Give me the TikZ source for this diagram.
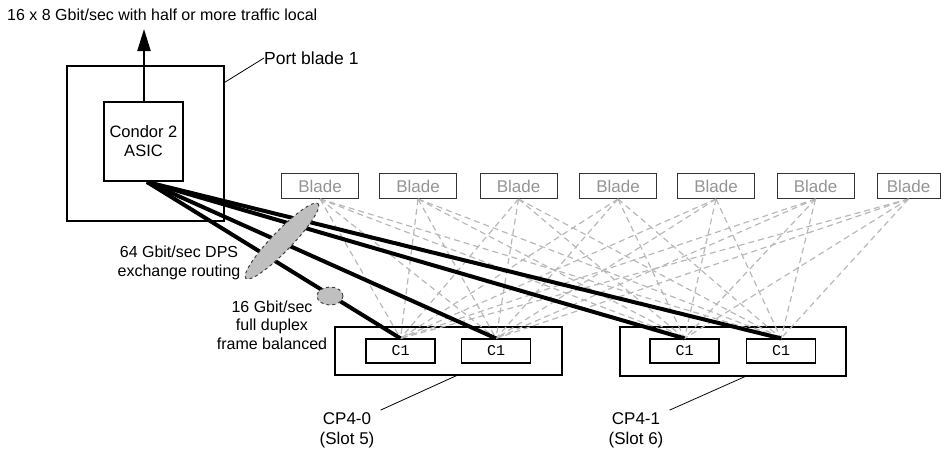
\documentclass[tikz,border=0pt]{standalone}
\usepackage{fontspec}
\setmainfont{Liberation Sans}
\setmonofont{Liberation Mono}
\usetikzlibrary{arrows.meta}

\tikzset{
    frame/.style={draw=black, line width=1.2pt, inner sep=0pt},
    blade/.style={draw=black!80, line width=1pt, minimum width=77pt, minimum height=25pt, inner sep=0pt, text=black!42, font=\fontsize{17}{19}\selectfont},
    chip/.style={draw=black, line width=1.2pt, minimum width=69pt, minimum height=24pt, inner sep=0pt, font=\ttfamily\fontsize{15}{17}\selectfont},
    mesh/.style={black!28, line width=1.2pt, dash pattern=on 6pt off 4pt},
    link/.style={line width=4pt},
    bubble/.style={draw=black!75, fill=black!25, line width=1pt, dashed},
    lbl/.style={align=center, inner sep=2pt, font=\fontsize{16}{18.5}\selectfont},
    leader/.style={line width=0.8pt}
}

\begin{document}
\begin{tikzpicture}[x=1pt, y=-1pt]
    \useasboundingbox (0,0) rectangle (944,451);

    % port blade
    \node[frame, minimum width=157pt, minimum height=155pt] (port) at (145.5,143.5) {};
    \node[frame, line width=1.4pt, minimum width=79pt, minimum height=79pt, lbl, font=\fontsize{16.5}{19}\selectfont] (asic) at (143.5,141.5) {Condor 2\\ASIC};
    \node[lbl, anchor=west] (title) at (5,15) {16 x 8 Gbit/sec with half or more traffic local};
    \coordinate (up) at (144,29);
    \draw[line width=2.2pt, -{Triangle[length=22pt, width=13pt]}] (asic.north -| up) -- (up);
    \node[lbl, anchor=west, font=\fontsize{17.5}{20}\selectfont] (portlbl) at (262,58) {Port blade 1};
    \draw[leader] ([yshift=-17pt]port.north east) -- ([xshift=2pt]portlbl.west);

    % blades
    \foreach \i/\x in {1/320,2/418,3/518.5,4/618,5/716,6/815.5}
        \node[blade] (b\i) at (\x,186) {Blade};
    \node[blade, minimum width=63pt] (b7) at (908.5,186) {Blade};

    % cp blades
    \node[frame, minimum width=227pt, minimum height=48pt] (cp0) at (448.5,351) {};
    \node[frame, minimum width=226pt, minimum height=49pt] (cp1) at (733,351.5) {};
    \node[chip] (c1) at (400.5,351) {C1};
    \node[chip] (c2) at (496,351) {C1};
    \node[chip] (c3) at (684.5,351) {C1};
    \node[chip] (c4) at (781,351) {C1};

    % dashed mesh
    \foreach \i in {1,...,7}
        \foreach \j in {1,...,4}
            \draw[mesh] (b\i.south) -- (c\j.north);

    % dps links
    \coordinate (hub) at (147,182);
    \foreach \j in {1,...,4}
        \draw[link] (hub) -- (c\j.north);

    % bubbles
    \draw[bubble, rotate around={46:(282,241)}] (282,241) ellipse [x radius=52, y radius=10];
    \draw[bubble] (330,296) ellipse [x radius=13, y radius=9];

    % text
    \node[lbl] (dps) at (179,263) {64 Gbit/sec DPS\\exchange routing};
    \node[lbl] (duplex) at (272,325) {16 Gbit/sec\\full duplex\\frame balanced};
    \node[lbl, font=\fontsize{17}{20}\selectfont] (slot5) at (347,430) {CP4-0\\(Slot 5)};
    \node[lbl, font=\fontsize{17}{20}\selectfont] (slot6) at (636,430) {CP4-1\\(Slot 6)};
    \draw[leader] ([xshift=8pt]cp0.south) -- ([xshift=4pt]slot5.north east);
    \draw[leader] ([xshift=12pt]cp1.south) -- ([xshift=4pt]slot6.north east);
\end{tikzpicture}
\end{document}
